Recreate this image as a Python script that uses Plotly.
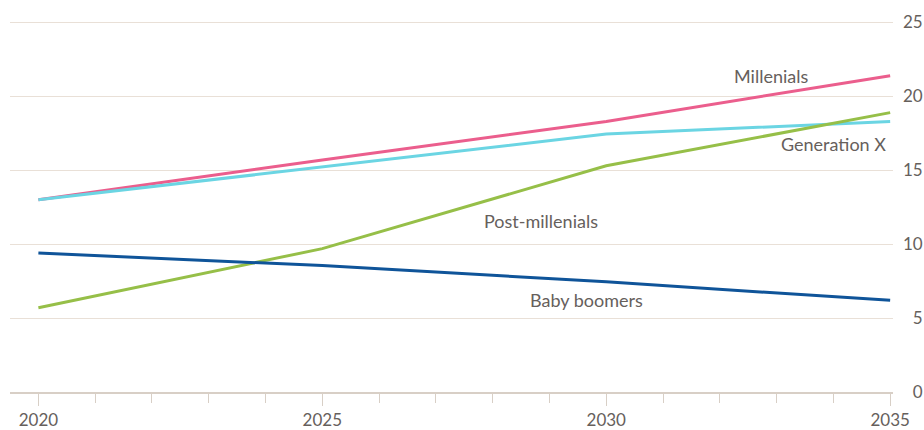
import plotly.graph_objects as go

years = [2020, 2025, 2030, 2035]
millenials = [13.0, 15.7, 18.3, 21.4]
generation_x = [13.0, 15.25, 17.45, 18.3]
post_millenials = [5.7, 9.7, 15.3, 18.9]
baby_boomers = [9.4, 8.55, 7.45, 6.2]

series_names = ["Millenials", "Generation X", "Post-millenials", "Baby boomers"]
series_values = [millenials, generation_x, post_millenials, baby_boomers]
colors = ["#eb5e8d", "#6bd5e3", "#96bf48", "#0f5499"]

label_x = [2032.9, 2034.0, 2028.85, 2029.65]
label_y = [21.4, 16.75, 11.6, 6.2]

y_ticks = [0, 5, 10, 15, 20, 25]
y_ticktext = ["\u2007" + str(v) if v < 10 else str(v) for v in y_ticks]
x_ticks = [2020, 2025, 2030, 2035]

FONT = "Lato"
TXT = "#66605c"

fig = go.Figure()
for name, vals, col in zip(series_names, series_values, colors):
    fig.add_trace(go.Scatter(x=years, y=vals, mode="lines", name=name,
                             line=dict(color=col, width=3), hoverinfo="skip"))

for name, lx, ly in zip(series_names, label_x, label_y):
    fig.add_annotation(x=lx, y=ly, text=name, showarrow=False,
                       font=dict(family=FONT, size=18, color=TXT),
                       xanchor="center", yanchor="middle")

fig.update_layout(
    width=924, height=430,
    margin=dict(l=10, r=31, t=18, b=38),
    paper_bgcolor="white", plot_bgcolor="white",
    showlegend=False,
    font=dict(family=FONT, size=17, color=TXT),
    xaxis=dict(range=[2019.5, 2035.05], tickvals=x_ticks, ticktext=[str(v) for v in x_ticks],
               automargin=False,
               showgrid=False, zeroline=False,
               showline=True, linecolor="#d8cfc6", linewidth=2,
               ticks="outside", ticklen=12, tickwidth=1, tickcolor="#d8cfc6",
               minor=dict(dtick=1, tick0=2020, ticks="outside", ticklen=9,
                          tickwidth=1, tickcolor="#d8cfc6", showgrid=False),
               tickfont=dict(family=FONT, size=17, color=TXT)),
    yaxis=dict(range=[0, 25.3], side="right", tickvals=y_ticks, ticktext=y_ticktext,
               automargin=False,
               showgrid=True, gridcolor="#e9e0d7", gridwidth=1,
               zeroline=False, showline=False, ticks="",
               ticklabelstandoff=9,
               tickfont=dict(family=FONT, size=17, color=TXT)),
)

# remove the default page margin so the 924x430 figure fills the window exactly
fig.write_html("out.html",
               config={"displayModeBar": False},
               post_script="document.body.style.margin='0';document.body.style.overflow='hidden';")
